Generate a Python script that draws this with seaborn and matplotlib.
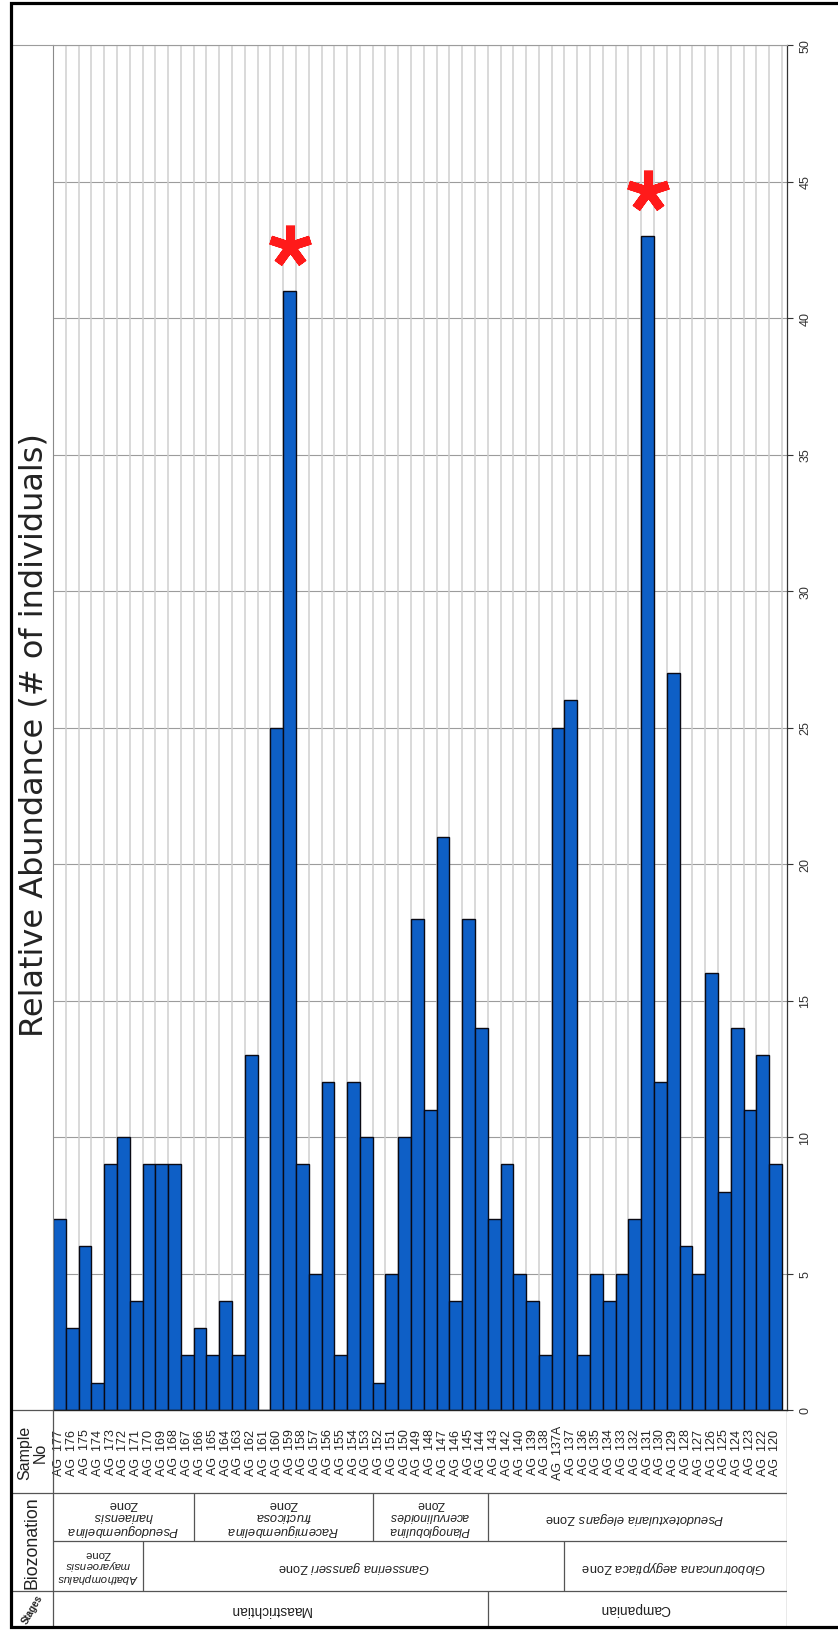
import numpy as np
import pandas as pd
import matplotlib
matplotlib.use("Agg")
import matplotlib.pyplot as plt
import seaborn as sns

# ---------------------------------------------------------------- data
samples = [
    "AG 177", "AG 176", "AG 175", "AG 174", "AG 173", "AG 172", "AG 171",
    "AG 170", "AG 169", "AG 168", "AG 167", "AG 166", "AG 165", "AG 164",
    "AG 163", "AG 162", "AG 161", "AG 160", "AG 159", "AG 158", "AG 157",
    "AG 156", "AG 155", "AG 154", "AG 153", "AG 152", "AG 151", "AG 150",
    "AG 149", "AG 148", "AG 147", "AG 146", "AG 145", "AG 144", "AG 143",
    "AG 142", "AG 140", "AG 139", "AG 138", "AG 137A", "AG 137", "AG 136",
    "AG 135", "AG 134", "AG 133", "AG 132", "AG 131", "AG 130", "AG 129",
    "AG 128", "AG 127", "AG 126", "AG 125", "AG 124", "AG 123", "AG 122",
    "AG 120",
]
abundance = [
    7, 3, 6, 1, 9, 10, 4, 9, 9, 9, 2, 3, 2, 4, 2, 13, 0, 25, 41, 9,
    5, 12, 2, 12, 10, 1, 5, 10, 18, 11, 21, 4, 18, 14, 7, 9, 5, 4, 2, 25,
    26, 2, 5, 4, 5, 7, 43, 12, 27, 6, 5, 16, 8, 14, 11, 13, 9,
]
flagged_samples = ["AG 159", "AG 131"]

upper_zone_genus = ["Pseudoguembelina", "Racemiguembelina", "Planoglobulina", "Pseudotextularia"]
upper_zone_species = ["hariaensis", "fructicosa", "acervulinoides", "elegans"]
upper_zone_first = ["AG 177", "AG 166", "AG 152", "AG 143"]
upper_zone_last = ["AG 167", "AG 153", "AG 144", "AG 120"]
upper_zone_stacked = [True, True, True, False]

lower_zone_genus = ["Abathomphalus", "Gansserina", "Globotruncana"]
lower_zone_species = ["mayaroensis", "gansseri", "aegyptiaca"]
lower_zone_first = ["AG 177", "AG 170", "AG 137"]
lower_zone_last = ["AG 171", "AG 137A", "AG 120"]
lower_zone_stacked = [True, False, False]

stage_names = ["Maastrichtian", "Campanian"]
stage_first = ["AG 177", "AG 143"]
stage_last = ["AG 144", "AG 120"]

value_ticks = list(range(0, 51, 5))
value_title = "Relative Abundance (# of individuals)"
header_sample = "Sample\nNo"
header_zone = "Biozonation"
header_stage = "Stages"

# ---------------------------------------------------------------- style
BAR_BLUE = "#0e5fc6"
GRID_MAJOR = "#9c9c9c"
GRID_MINOR = "#d0d0d0"
TABLE_LINE = "#555555"
TEXT = "#222222"

sns.set_style("white")
plt.rcParams["font.family"] = ["Liberation Sans", "DejaVu Sans"]
plt.rcParams["mathtext.fontset"] = "custom"
plt.rcParams["mathtext.rm"] = "Liberation Sans"
plt.rcParams["mathtext.it"] = "Liberation Sans:italic"

# page layout in pixels
W, H = 838, 1631
FRAME_L = 12
PLOT_L, PLOT_R, PLOT_T, PLOT_B = 53, 787, 46, 1411
ROW_SAMPLE_B = 1494
ROW_UPPER_B = 1542
ROW_LOWER_B = 1592
TABLE_B = 1627


def frac(left, top, right, bottom):
    return [left / W, 1 - bottom / H, (right - left) / W, (bottom - top) / H]


fig = plt.figure(figsize=(W / 100, H / 100), dpi=100)

# ---------------------------------------------------------------- bars
ax = fig.add_axes(frac(PLOT_L, PLOT_T, PLOT_R, PLOT_B))
df = pd.DataFrame({"sample": samples, "count": abundance})
sns.barplot(data=df, x="sample", y="count", order=samples, color=BAR_BLUE,
            saturation=1, width=1.0, edgecolor="#0a0a14", linewidth=1.0,
            ax=ax, zorder=2)

n = len(samples)
ax.set_xlim(-0.5, n - 0.1)
ax.set_ylim(value_ticks[0], value_ticks[-1])
edges = np.arange(n + 1) - 0.5
ax.vlines(edges[1:], value_ticks[0], value_ticks[-1], colors=GRID_MINOR,
          lw=1.1, zorder=0.6)
ax.set_yticks(value_ticks)
ax.yaxis.grid(True, color=GRID_MAJOR, lw=0.8)
ax.set_axisbelow(True)
ax.yaxis.tick_right()
ax.tick_params(axis="y", which="major", direction="out", length=4, width=0.8,
               color="#333333", labelsize=9, labelcolor="#333333", pad=5)
for lab in ax.get_yticklabels():
    lab.set_rotation(90)
    lab.set_va("center")
    lab.set_ha("left")
ax.set_xticks(np.arange(n))
ax.set_xticklabels([])
ax.set_xticks(edges, minor=True)
ax.tick_params(axis="x", which="major", length=0)
ax.tick_params(axis="x", which="minor", direction="out", length=4, width=0.8,
               color="#333333")
ax.set_xlabel("")
ax.set_ylabel("")
ax.spines["top"].set_color(GRID_MAJOR)
ax.spines["top"].set_linewidth(0.8)
ax.spines["left"].set_color("#8a8a8a")
ax.spines["left"].set_linewidth(0.8)
ax.spines["right"].set_color("#333333")
ax.spines["right"].set_linewidth(0.9)
ax.spines["bottom"].set_color("#222222")
ax.spines["bottom"].set_linewidth(1.0)

# red asterisks over the two dominant samples
for s in flagged_samples:
    i = samples.index(s)
    ax.plot(i, abundance[i] + 1.65, marker=(5, 2, 0), ms=30, mew=6.5,
            color="#ff1a1a", clip_on=False, zorder=5)

# ---------------------------------------------------------------- table
tab = fig.add_axes(frac(PLOT_L, PLOT_B, PLOT_R, TABLE_B))
tab.set_xlim(ax.get_xlim())
tab.set_ylim(TABLE_B, PLOT_B)
tab.axis("off")
x0, x1 = ax.get_xlim()

for i, s in enumerate(samples):
    tab.text(i, (PLOT_B + ROW_SAMPLE_B) / 2, s.replace(" ", "  "), rotation=90,
             ha="center", va="center", fontsize=9, color=TEXT)

tab.hlines([ROW_SAMPLE_B, ROW_UPPER_B, ROW_LOWER_B], x0, x1,
           colors=TABLE_LINE, lw=0.9)
tab.vlines(x1, PLOT_B, TABLE_B, colors=TABLE_LINE, lw=0.9)


def zone_label(genus, species, stacked):
    if stacked:
        return f"$\\mathit{{{genus}}}$\n$\\mathit{{{species}}}$\nZone"
    return f"$\\mathit{{{genus}\\ {species}}}$ Zone"


def draw_band(labels, firsts, lasts, top, bottom, sizes):
    for k, (lab, a, b, size) in enumerate(zip(labels, firsts, lasts, sizes)):
        ia, ib = samples.index(a), samples.index(b)
        if k > 0:
            tab.vlines(ia - 0.5, top, bottom, colors=TABLE_LINE, lw=0.9)
        tab.text((ia + ib) / 2, (top + bottom) / 2, lab, rotation=180,
                 ha="center", va="center", multialignment="center",
                 fontsize=size, color=TEXT, linespacing=0.92)


upper_labels = [zone_label(g, s, st) for g, s, st in
                zip(upper_zone_genus, upper_zone_species, upper_zone_stacked)]
lower_labels = [zone_label(g, s, st) for g, s, st in
                zip(lower_zone_genus, lower_zone_species, lower_zone_stacked)]
draw_band(upper_labels, upper_zone_first, upper_zone_last,
          ROW_SAMPLE_B, ROW_UPPER_B, [9.3, 9.3, 8.8, 9.3])
draw_band(lower_labels, lower_zone_first, lower_zone_last,
          ROW_UPPER_B, ROW_LOWER_B, [8.2, 9.3, 9.3])
draw_band(stage_names, stage_first, stage_last, ROW_LOWER_B, TABLE_B,
          [9.8, 9.8])

# ---------------------------------------------------------------- frame, headers, title
ov = fig.add_axes([0, 0, 1, 1])
ov.set_xlim(0, W)
ov.set_ylim(H, 0)
ov.axis("off")

ov.hlines([PLOT_T], FRAME_L, PLOT_L, colors=GRID_MAJOR, lw=0.8)
ov.hlines([PLOT_B, ROW_SAMPLE_B, ROW_LOWER_B], FRAME_L, PLOT_L,
          colors=TABLE_LINE, lw=0.9)
ov.vlines([PLOT_L], PLOT_B, TABLE_B, colors=TABLE_LINE, lw=0.9)

# outer black frame
ov.plot([W, FRAME_L - 1.5, FRAME_L - 1.5, W], [3.5, 3.5, TABLE_B + 1.5, TABLE_B + 1.5],
        color="black", lw=2.3, solid_joinstyle="miter")

hx = (FRAME_L + PLOT_L) / 2
ov.text(hx, (PLOT_B + ROW_SAMPLE_B) / 2, header_sample, rotation=90,
        ha="center", va="center", multialignment="center", fontsize=11.5,
        color=TEXT, linespacing=1.0)
ov.text(hx, (ROW_SAMPLE_B + ROW_LOWER_B) / 2, header_zone, rotation=90,
        ha="center", va="center", fontsize=12.8, color=TEXT)
ov.text(hx, (ROW_LOWER_B + TABLE_B) / 2, header_stage, rotation=60,
        ha="center", va="center", fontsize=7, fontweight="bold", color=TEXT)

ov.text(34, 735, value_title, rotation=90, ha="center", va="center",
        fontsize=23, color=TEXT, family=["DejaVu Sans"])

fig.savefig("out.png", dpi=100)
